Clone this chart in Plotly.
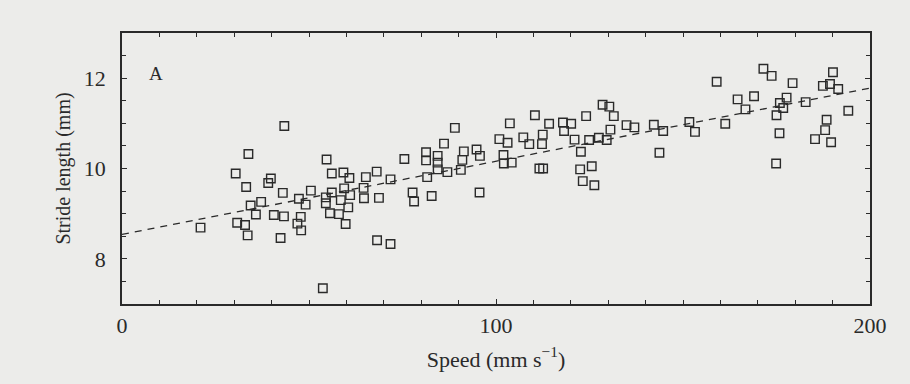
import plotly.graph_objects as go

# Speed (mm s^-1)
speed = [
    43.4, 33.8, 30.4, 33.2, 39.8, 39.1, 43.0, 37.2, 34.4, 35.8,
    21.0, 30.8, 32.9, 33.6, 40.6, 43.3, 42.4, 47.3, 50.5, 49.1,
    47.8, 46.9, 47.9, 53.7, 54.7, 56.1, 59.2, 60.8, 59.4, 56.1,
    54.5, 54.5, 58.5, 61.0, 60.5, 55.6, 58.0, 59.8,
    64.6, 65.2, 64.7, 68.1, 68.7, 68.2, 71.8, 71.8,
    75.5, 81.3, 81.3, 84.4, 84.4, 84.4, 87.0, 81.6, 86.1, 89.0,
    91.4, 91.0, 90.6, 94.8, 95.7, 95.6, 77.7, 78.1, 82.8,
    100.9, 103.1, 102.0, 102.1, 104.2, 103.7,
    110.4, 114.2, 107.3, 108.9, 112.5, 112.3, 111.6, 112.6,
    117.9, 120.1, 118.2, 124.1, 121.0, 122.7, 124.9, 127.5, 129.6,
    130.6, 128.5, 130.3, 131.5, 122.5, 125.6, 123.2, 126.3,
    134.9, 137.0, 142.2, 144.7, 143.7,
    151.7, 153.2, 159.0, 161.3, 164.6, 166.7, 169.0, 171.5, 173.7,
    179.3, 177.7, 175.9, 176.8, 175.0, 175.8, 174.9, 182.8,
    187.4, 190.1, 189.3, 191.5, 194.2, 188.4, 188.0, 185.3, 189.6,
]

# Stride length (mm)
stride = [
    10.94, 10.32, 9.89, 9.59, 9.78, 9.68, 9.46, 9.26, 9.18, 8.98,
    8.69, 8.80, 8.75, 8.52, 8.97, 8.94, 8.46, 9.33, 9.51, 9.20,
    8.93, 8.78, 8.63, 7.35, 10.20, 9.89, 9.91, 9.79, 9.56, 9.47,
    9.36, 9.23, 9.30, 9.41, 9.14, 9.01, 8.99, 8.77,
    9.57, 9.81, 9.34, 9.93, 9.35, 8.41, 9.76, 8.33,
    10.21, 10.36, 10.18, 10.28, 10.13, 9.98, 9.92, 9.81, 10.55, 10.90,
    10.38, 10.19, 9.97, 10.42, 10.28, 9.47, 9.47, 9.27, 9.39,
    10.65, 10.57, 10.30, 10.11, 10.13, 11.00,
    11.18, 10.99, 10.69, 10.54, 10.75, 10.54, 10.00, 10.00,
    11.02, 10.99, 10.83, 11.16, 10.64, 10.37, 10.63, 10.68, 10.63,
    10.86, 11.41, 11.37, 11.16, 9.98, 10.05, 9.72, 9.63,
    10.96, 10.91, 10.97, 10.83, 10.35,
    11.03, 10.81, 11.92, 10.99, 11.53, 11.31, 11.60, 12.21, 12.05,
    11.89, 11.57, 11.45, 11.34, 11.18, 10.78, 10.11, 11.47,
    11.83, 12.13, 11.87, 11.76, 11.28, 11.08, 10.85, 10.65, 10.58,
]

# Regression line (stride = intercept + slope * speed)
fit_intercept = 8.54
fit_slope = 0.0162
fit_speed = [0, 200]
fit_stride = [fit_intercept + fit_slope * s for s in fit_speed]

x_tick_vals = [0, 100, 200]
x_tick_text = ["0", "100", "200"]
y_tick_vals = [8, 10, 12]
y_tick_text = ["8", "10", "12"]

panel_label = "A"
x_title = "Speed (mm s<sup>\u22121</sup>)"
y_title = "Stride length (mm)"

ink = "#2a2a2a"
bg = "#ececea"
font_family = "Liberation Serif, Times New Roman, serif"

fig = go.Figure()
fig.add_trace(go.Scatter(
    x=fit_speed, y=fit_stride, mode="lines",
    line=dict(color=ink, width=1.3, dash="7px,6px"),
    hoverinfo="skip", showlegend=False,
))
fig.add_trace(go.Scatter(
    x=speed, y=stride, mode="markers",
    marker=dict(symbol="square-open", size=8.5, color=ink,
                line=dict(color=ink, width=1.4)),
    showlegend=False,
))

axis_common = dict(
    showgrid=False, zeroline=False, showline=True, linecolor=ink,
    linewidth=1.6, mirror="ticks", ticks="inside", ticklen=5,
    tickwidth=1.2, tickcolor=ink,
    tickfont=dict(family=font_family, size=22, color=ink),
)

fig.update_xaxes(
    range=[0, 200], tickmode="array", tickvals=x_tick_vals,
    ticktext=x_tick_text,
    minor=dict(dtick=10, ticks="inside", ticklen=4, tickwidth=1.2,
               tickcolor=ink, showgrid=False),
    title=dict(text=x_title, font=dict(family=font_family, size=22, color=ink),
               standoff=14),
    ticklabelstandoff=1,
    **axis_common,
)
fig.update_yaxes(
    range=[7, 13], tickmode="array", tickvals=y_tick_vals,
    ticktext=y_tick_text,
    minor=dict(dtick=0.5, ticks="inside", ticklen=4, tickwidth=1.2,
               tickcolor=ink, showgrid=False),
    title=dict(text=y_title, font=dict(family=font_family, size=20, color=ink),
               standoff=8),
    ticklabelstandoff=10,
    **axis_common,
)

fig.add_annotation(
    x=0.045, y=0.852, xref="paper", yref="paper", text=panel_label,
    showarrow=False, font=dict(family=font_family, size=19, color=ink),
    xanchor="center", yanchor="middle",
)

fig.update_layout(
    width=910, height=384,
    margin=dict(l=122, r=40, t=33, b=80),
    paper_bgcolor=bg, plot_bgcolor=bg,
    font=dict(family=font_family, color=ink),
)

fig.write_html("out.html")
